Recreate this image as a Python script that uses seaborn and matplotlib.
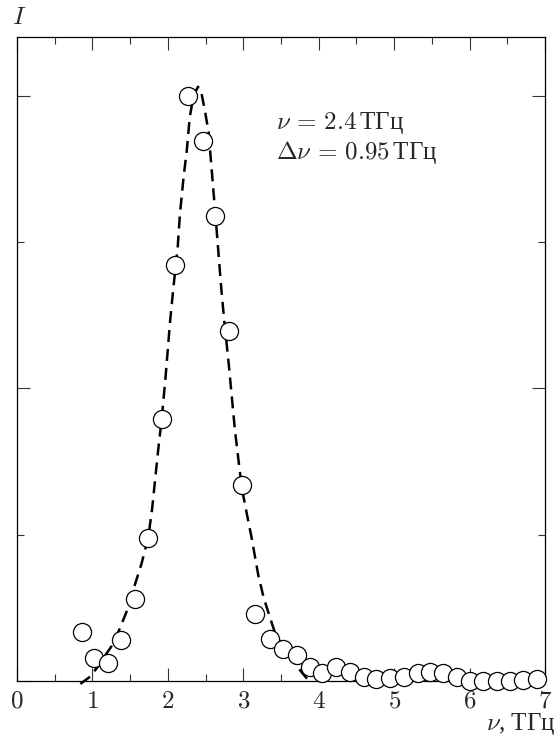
import matplotlib
matplotlib.use("Agg")
import matplotlib.pyplot as plt
import seaborn as sns
import pandas as pd
from matplotlib.ticker import MultipleLocator, FixedLocator

# measured points (frequency, THz ; intensity, arb. units)
freq = [0.86, 1.02, 1.21, 1.38, 1.56, 1.74, 1.92, 2.10, 2.27, 2.46, 2.63, 2.81,
        2.98, 3.16, 3.35, 3.52, 3.71, 3.89, 4.05, 4.23, 4.41, 4.60, 4.76, 4.94,
        5.13, 5.31, 5.48, 5.65, 5.83, 6.01, 6.18, 6.36, 6.54, 6.71, 6.89]
intensity = [0.332, 0.159, 0.121, 0.28, 0.558, 0.974, 1.79, 2.84, 4.0, 3.69, 3.18, 2.39,
             1.336, 0.455, 0.29, 0.216, 0.178, 0.093, 0.057, 0.098, 0.064, 0.025, 0.012, 0.018,
             0.029, 0.057, 0.063, 0.055, 0.029, 0.003, 0.003, 0.003, 0.003, 0.007, 0.012]

# fitted curve
fit_x = [0.84, 0.97, 1.06, 1.19, 1.27, 1.34, 1.45, 1.54, 1.65, 1.74, 1.79, 1.83,
         1.87, 1.92, 1.97, 2.03, 2.07, 2.13, 2.16, 2.21, 2.25, 2.29, 2.34, 2.40,
         2.44, 2.49, 2.54, 2.58, 2.62, 2.65, 2.71, 2.75, 2.81, 2.89, 2.98, 3.04,
         3.11, 3.20, 3.27, 3.35, 3.42, 3.55, 3.71, 3.87]
fit_y = [-0.02, 0.03, 0.09, 0.19, 0.25, 0.33, 0.47, 0.62, 0.80, 0.98, 1.17, 1.37,
         1.57, 1.80, 2.08, 2.46, 2.67, 2.96, 3.19, 3.45, 3.62, 3.85, 4.00, 4.06,
         4.03, 3.90, 3.75, 3.50, 3.25, 3.06, 2.67, 2.45, 2.15, 1.71, 1.32, 1.16,
         0.98, 0.72, 0.57, 0.44, 0.33, 0.21, 0.10, 0.00]

x_ticks = [0, 1, 2, 3, 4, 5, 6, 7]
x_tick_labels = ["$0$", "$1$", "$2$", "$3$", "$4$", "$5$", "$6$", "$7$"]
annot_lines = [r"$\nu\,=\,2.4\,$ТГц", r"$\Delta\nu\,=\,0.95\,$ТГц"]
x_label = r"$\nu$, ТГц"
y_label = r"$I$"

sns.set_theme(style="ticks")
plt.rcParams["font.family"] = ["Liberation Serif", "DejaVu Serif"]
plt.rcParams["mathtext.fontset"] = "cm"

FS = 18

df_pts = pd.DataFrame({"freq": freq, "I": intensity})
df_fit = pd.DataFrame({"freq": fit_x, "I": fit_y})

fig = plt.figure(figsize=(5.6, 7.38), dpi=100)
ax = fig.add_axes([17 / 560, 1 - 681 / 738, 528 / 560, 644 / 738])

sns.lineplot(data=df_fit, x="freq", y="I", ax=ax, color="black", lw=1.8,
             linestyle=(0, (4.8, 2.8)), clip_on=False, zorder=2)
sns.scatterplot(data=df_pts, x="freq", y="I", ax=ax, marker="o", s=170,
                facecolor="white", edgecolor="black", linewidth=0.9,
                clip_on=False, zorder=3)

ax.set_xlim(0, 7)
ax.set_ylim(0, 4.4)
ax.xaxis.set_major_locator(FixedLocator(x_ticks))
ax.set_xticklabels(x_tick_labels, fontsize=FS)
ax.xaxis.set_minor_locator(MultipleLocator(0.5))
ax.yaxis.set_major_locator(MultipleLocator(2))
ax.yaxis.set_minor_locator(MultipleLocator(1))
ax.set_yticklabels([])
ax.tick_params(which="both", direction="in", top=True, right=True,
               color="#333333", width=0.8)
ax.tick_params(which="major", length=9.5, pad=7)
ax.tick_params(which="minor", length=5)
for sp in ax.spines.values():
    sp.set_linewidth(0.9)
    sp.set_color("black")
ax.set_xlabel("")
ax.set_ylabel("")

ax.text(3.43, 3.81, annot_lines[0], fontsize=FS, ha="left", va="center")
ax.text(3.43, 3.61, annot_lines[1], fontsize=FS, ha="left", va="center")

ax.text(0.004, 1.012, y_label, transform=ax.transAxes, fontsize=FS,
        ha="center", va="bottom")
fig.text(0.992, 0.011, x_label, fontsize=FS, ha="right", va="baseline")

fig.savefig("out.png", dpi=100)
